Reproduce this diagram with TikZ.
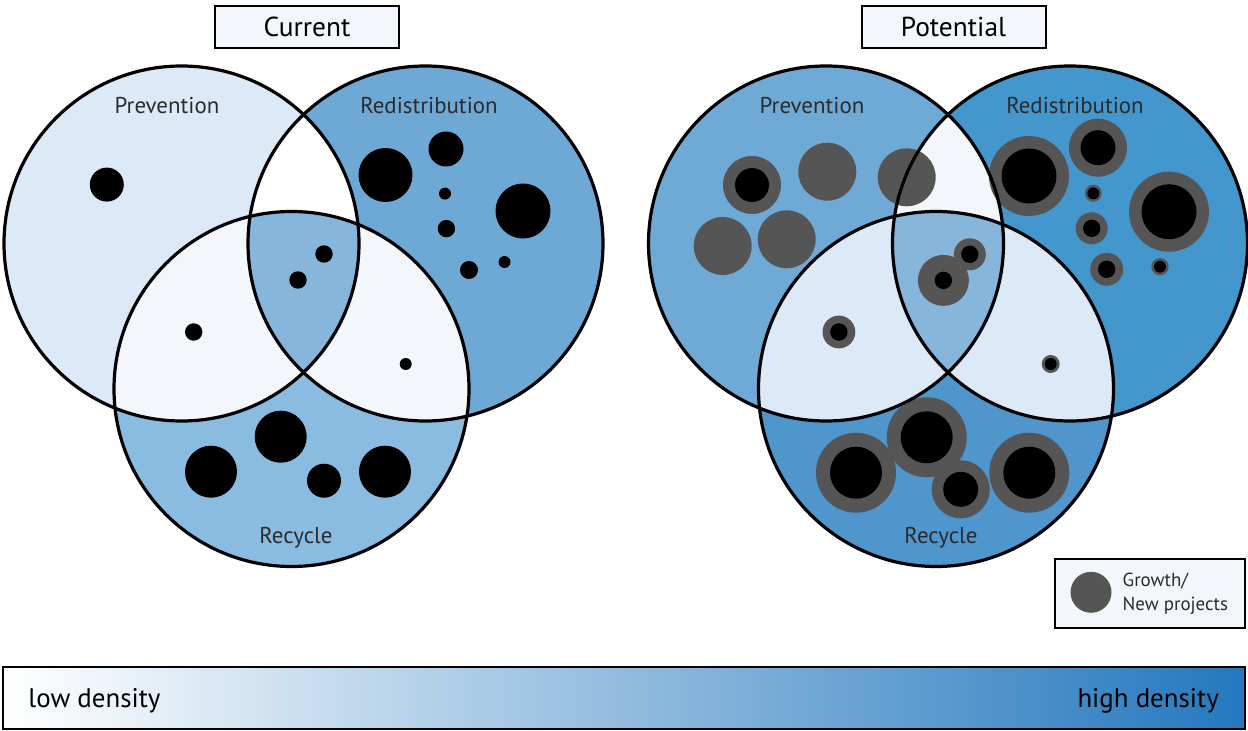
\documentclass[tikz,border=0pt]{standalone}
\usepackage{fontspec}
\setmainfont{PT Sans}
\usepackage{xcolor}

% region colours, current state
\definecolor{curP}{HTML}{DCE9F6}
\definecolor{curD}{HTML}{6EA9D6}
\definecolor{curR}{HTML}{8ABBE0}
\definecolor{curPD}{HTML}{FFFFFF}
\definecolor{curPR}{HTML}{F3F7FB}
\definecolor{curDR}{HTML}{F3F7FB}
\definecolor{curPDR}{HTML}{86B6DC}
% region colours, potential state
\definecolor{potP}{HTML}{6FAAD7}
\definecolor{potD}{HTML}{4397CD}
\definecolor{potR}{HTML}{4E96CB}
\definecolor{potPD}{HTML}{F3F7FB}
\definecolor{potPR}{HTML}{DCE9F6}
\definecolor{potDR}{HTML}{DCE9F6}
\definecolor{potPDR}{HTML}{86B6DC}
\definecolor{boxfill}{HTML}{F3F7FB}
\definecolor{growgray}{HTML}{555555}
\definecolor{labelgray}{HTML}{2B2B2B}
\definecolor{densblue}{HTML}{2478BE}

\newcommand{\rad}{177.5bp}
% three coloured circles with their overlaps; #1 = prefix of colours and coordinates
\newcommand{\vennset}[1]{%
  \fill[#1P] (#1-P) circle[radius=\rad];
  \fill[#1D] (#1-D) circle[radius=\rad];
  \fill[#1R] (#1-R) circle[radius=\rad];
  \begin{scope}
    \clip (#1-P) circle[radius=\rad];
    \fill[#1PD] (#1-D) circle[radius=\rad];
    \fill[#1PR] (#1-R) circle[radius=\rad];
  \end{scope}
  \begin{scope}
    \clip (#1-D) circle[radius=\rad];
    \fill[#1DR] (#1-R) circle[radius=\rad];
    \clip (#1-P) circle[radius=\rad];
    \fill[#1PDR] (#1-R) circle[radius=\rad];
  \end{scope}
}
% black project dot
\newcommand{\proj}[2]{\fill[black] (#1) circle[radius=#2bp];}
% project with growth ring
\newcommand{\grown}[3]{\fill[growgray] (#1) circle[radius=#2bp]; \fill[black] (#1) circle[radius=#3bp];}

\begin{document}
\begin{tikzpicture}[x=1bp,y=-1bp]

    \tikzset{ring/.style = {draw=black, line width=3.2bp}}
    \tikzset{titlebox/.style = {draw=black, line width=2bp, fill=boxfill, minimum width=184bp, minimum height=42bp, inner sep=0pt, font=\fontsize{27.5}{31}\selectfont}}
    \tikzset{setlabel/.style = {anchor=base, inner sep=0pt, text=labelgray, font=\fontsize{23}{27}\selectfont}}
    \tikzset{barlabel/.style = {inner sep=0pt, text=black, font=\fontsize{27}{32}\selectfont}}

    \useasboundingbox (0,0) rectangle (1248,731);

    % circle centres
    \coordinate (cur-P) at (181.5,243.5);
    \coordinate (cur-D) at (425.5,243.5);
    \coordinate (cur-R) at (291.5,389);
    \coordinate (pot-P) at (826,243.5);
    \coordinate (pot-D) at (1070,243.5);
    \coordinate (pot-R) at (936,389);

    %current
    \vennset{cur}
    \proj{106.8,184.6}{17}
    \proj{385.5,175}{27}
    \proj{446,149}{17.5}
    \proj{445,193.6}{6}
    \proj{523,211}{27.5}
    \proj{446.4,228.6}{8.7}
    \proj{469,270}{9}
    \proj{504.5,262}{6}
    \proj{324,254}{8.7}
    \proj{298,280}{8.7}
    \proj{193.7,332}{8.7}
    \proj{405.7,364}{6}
    \proj{211,471.7}{26}
    \proj{280.7,436.7}{26}
    \proj{324,480.7}{17}
    \proj{385,471.7}{26}
    \draw[ring] (cur-P) circle[radius=\rad];
    \draw[ring] (cur-D) circle[radius=\rad];
    \draw[ring] (cur-R) circle[radius=\rad];

    %potential
    \vennset{pot}
    \grown{752,185}{29}{17}
    \fill[growgray] (827.3,171.7) circle[radius=29bp];
    \fill[growgray] (906.7,177.3) circle[radius=29bp];
    \fill[growgray] (722.7,246) circle[radius=29bp];
    \fill[growgray] (786.7,239.3) circle[radius=29bp];
    \grown{1029,176}{40}{27.5}
    \grown{1098,147.7}{29}{17.5}
    \grown{1093.3,193.3}{8.5}{6}
    \grown{1091.7,228.3}{16}{8.7}
    \grown{1106.7,269.3}{16.5}{8.7}
    \grown{1160,266.7}{8.7}{6}
    \grown{1169,211.7}{40}{27.5}
    \grown{969.8,254.3}{16}{8.7}
    \grown{943.4,280.4}{25.5}{8.7}
    \grown{838.9,332}{16.4}{8.7}
    \grown{1050.7,364}{9}{6}
    \grown{856,472.7}{40}{26}
    \grown{926.7,437.3}{40}{26}
    \grown{960.7,489.3}{29}{17.5}
    \grown{1029.3,472.7}{40}{26}
    \draw[ring] (pot-P) circle[radius=\rad];
    \draw[ring] (pot-D) circle[radius=\rad];
    \draw[ring] (pot-R) circle[radius=\rad];

    % set names
    \node[setlabel] (curPlab) at (167,114) {Prevention};
    \node[setlabel] (curDlab) at (429,114) {Redistribution};
    \node[setlabel] (curRlab) at (296,543) {Recycle};
    \node[setlabel] (potPlab) at (812,114) {Prevention};
    \node[setlabel] (potDlab) at (1075,114) {Redistribution};
    \node[setlabel] (potRlab) at (941,543) {Recycle};

    % titles
    \node[titlebox] (curtitle) at (307,27) {Current};
    \node[titlebox] (pottitle) at (953.5,27) {Potential};

    % legend
    \node[draw=black, line width=2bp, fill=boxfill, minimum width=190bp, minimum height=69bp, inner sep=0pt] (legend) at (1150,593.5) {};
    \fill[growgray] (1091,592.3) circle[radius=20.5bp];
    \node[anchor=base west, inner sep=0pt, text=labelgray, font=\fontsize{19}{23}\selectfont] (legtop) at (1122.5,586.7) {Growth/};
    \node[anchor=base west, inner sep=0pt, text=labelgray, font=\fontsize{19}{23}\selectfont] (legbot) at (1122.5,610) {New projects};

    % density scale
    \shade[left color=white, right color=densblue] (3.3,666.7) rectangle (1245,729);
    \node[draw=black, line width=2bp, minimum width=1241.7bp, minimum height=62.3bp, inner sep=0pt] (bar) at (624.15,697.85) {};
    \node[barlabel, anchor=base west] (low) at (28.3,707.7) {low density};
    \node[barlabel, anchor=base east] (high) at (1219,707.7) {high density};

\end{tikzpicture}
\end{document}
